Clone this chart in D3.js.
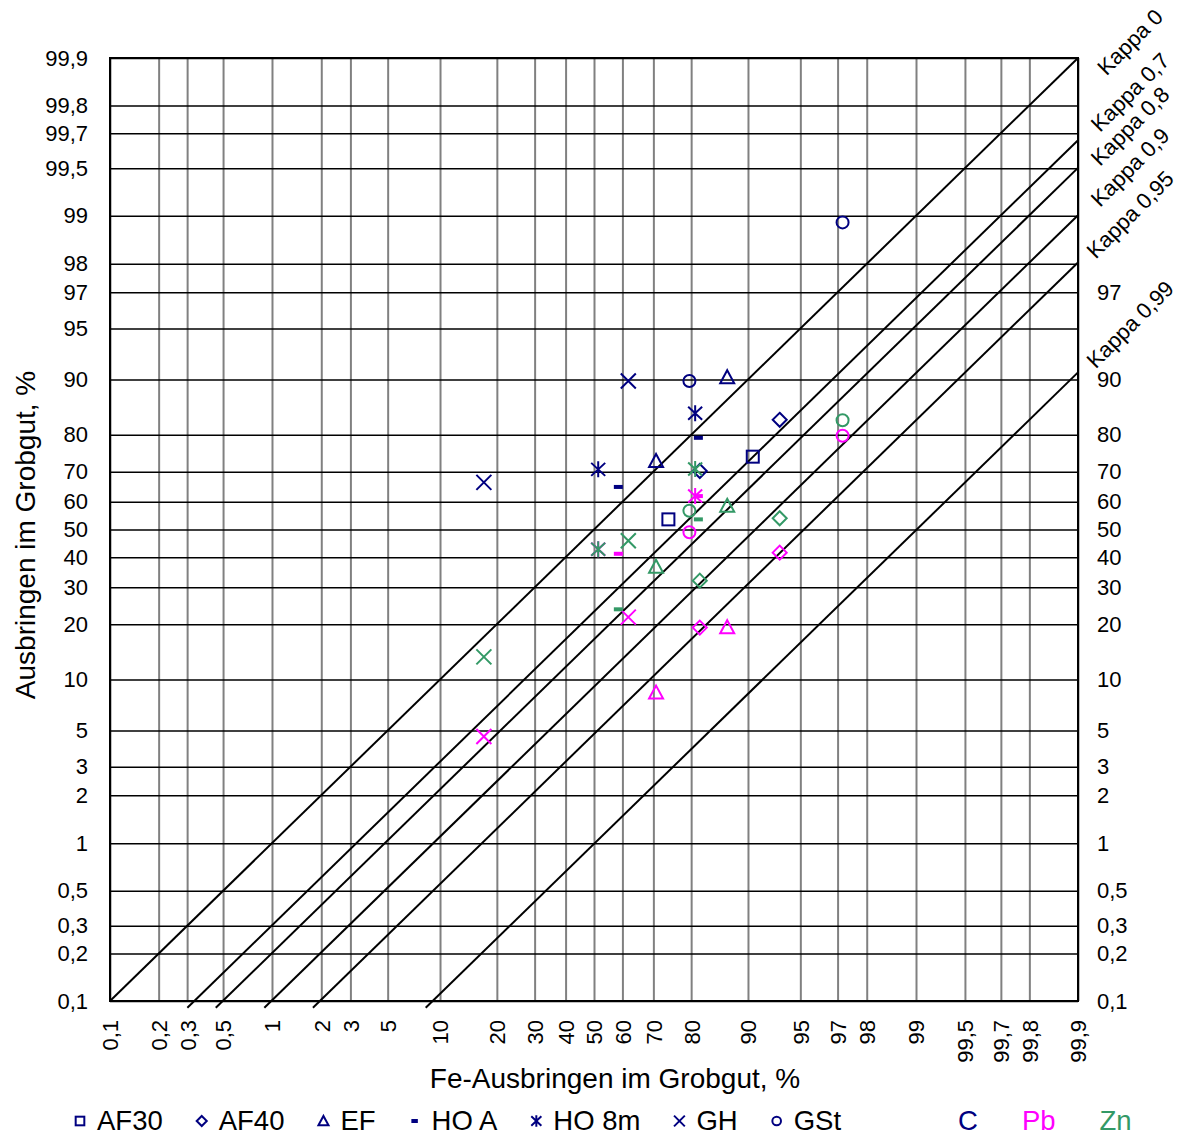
<!DOCTYPE html>
<html>
<head>
<meta charset="utf-8">
<script src="https://cdn.jsdelivr.net/npm/d3@7"></script>
<style>
  html, body { margin: 0; padding: 0; background: #fff; }
  svg { display: block; font-family: "Liberation Sans", Arial, sans-serif; }
</style>
</head>
<body>
<svg id="chart" width="1180" height="1137"></svg>
<script>
// Probability (logit) grid: Fe recovery vs. element recovery in the coarse product

const xTickValues = [0.1, 0.2, 0.3, 0.5, 1, 2, 3, 5, 10, 20, 30, 40, 50, 60, 70, 80, 90, 95, 97, 98, 99, 99.5, 99.7, 99.8, 99.9];
const yTickValues = [0.1, 0.2, 0.3, 0.5, 1, 2, 3, 5, 10, 20, 30, 40, 50, 60, 70, 80, 90, 95, 97, 98, 99, 99.5, 99.7, 99.8, 99.9];
const yTickValuesRight = [0.1, 0.2, 0.3, 0.5, 1, 2, 3, 5, 10, 20, 30, 40, 50, 60, 70, 80, 90, 97];

const kappaValues = [0, 0.7, 0.8, 0.9, 0.95, 0.99];

const methods = ["AF30", "AF40", "EF", "HO A", "HO 8m", "GH", "GSt"];
const markerTypes = ["square", "diamond", "triangle", "dash", "star", "cross", "circle"];

// Fe recovery (%) per method, two tests each
const feRecovery = [[74.3, 90.6], [81.9, 93.4], [70.8, 87.0], [58.6, 81.6], [51.5, 80.9], [17.2, 62.0], [79.6, 97.2]];
// Element recovery (%) in the same tests
const cRecovery  = [[53.7, 74.4], [70.2, 83.3], [73.2, 90.3], [65.1, 79.3], [70.7, 84.6], [66.6, 89.8], [89.8, 98.9]];
const pbRecovery = [[null, null], [19.2, 41.6], [8.4, 19.3], [41.2, 62.0], [42.8, 62.0], [4.6, 21.7], [49.0, 79.8]];
const znRecovery = [[null, null], [32.1, 54.1], [36.7, 58.6], [23.7, 53.7], [42.8, 70.8], [13.4, 45.9], [56.8, 83.2]];

const elements = ["C", "Pb", "Zn"];
const elementColors = ["#000080", "#FF00FF", "#339966"];
const elementData = [cRecovery, pbRecovery, znRecovery];

const fmt = v => String(v).replace(".", ",");
const logit = pct => Math.log((pct / 100) / (1 - pct / 100));

const svg = d3.select("#chart");
const pLeft = 110, pRight = 1078, pTop = 58, pBottom = 1001;

const xLin = d3.scaleLinear().domain([logit(0.1), logit(99.9)]).range([pLeft, pRight]);
const yLin = d3.scaleLinear().domain([logit(0.1), logit(99.9)]).range([pBottom, pTop]);
const xPos = v => xLin(logit(v));
const yPos = v => yLin(logit(v));

svg.append("rect").attr("width", 1180).attr("height", 1137).attr("fill", "#fff");

// vertical grid (grey) with rotated labels
const xAxis = d3.axisBottom(xLin)
  .tickValues(xTickValues.map(logit))
  .tickFormat((d, i) => fmt(xTickValues[i]))
  .tickSizeInner(-(pBottom - pTop)).tickSizeOuter(0).tickPadding(0);
const gx = svg.append("g").attr("transform", `translate(0,${pBottom})`).call(xAxis);
gx.select(".domain").remove();
gx.selectAll(".tick line").attr("stroke", "#808080").attr("stroke-width", 2);
gx.selectAll(".tick text")
  .attr("transform", "rotate(-90)")
  .attr("text-anchor", "end")
  .attr("x", -19).attr("y", 0).attr("dy", "0.36em")
  .attr("font-size", 22).attr("fill", "#000")
  .style("font-family", "Liberation Sans, Arial, sans-serif");

// horizontal grid (black) with left labels
const yAxis = d3.axisLeft(yLin)
  .tickValues(yTickValues.map(logit))
  .tickFormat((d, i) => fmt(yTickValues[i]))
  .tickSizeInner(-(pRight - pLeft)).tickSizeOuter(0).tickPadding(22);
const gy = svg.append("g").attr("transform", `translate(${pLeft},0)`).call(yAxis);
gy.select(".domain").remove();
gy.selectAll(".tick line").attr("stroke", "#000").attr("stroke-width", 1.5);
gy.selectAll(".tick text").attr("font-size", 22).attr("fill", "#000")
  .style("font-family", "Liberation Sans, Arial, sans-serif");

// right labels
const yAxisR = d3.axisRight(yLin)
  .tickValues(yTickValuesRight.map(logit))
  .tickFormat((d, i) => fmt(yTickValuesRight[i]))
  .tickSize(0).tickPadding(19);
const gyr = svg.append("g").attr("transform", `translate(${pRight},0)`).call(yAxisR);
gyr.select(".domain").remove();
gyr.selectAll(".tick text").attr("font-size", 22).attr("fill", "#000")
  .style("font-family", "Liberation Sans, Arial, sans-serif");

// Kappa lines: odds(element) = (1 - kappa) * odds(Fe)
const lo = logit(0.1), hi = logit(99.9);
const kappaLine = d3.line().x(d => xLin(d[0])).y(d => yLin(d[1]));
let prevLabelY = -Infinity;
kappaValues.forEach(k => {
  const off = k === 0 ? 0 : Math.log(1 - k);
  const y0 = k === 0 ? lo : lo - 0.1;
  const pts = [[y0 - off, y0], [hi, hi + off]];
  svg.append("path").attr("d", kappaLine(pts))
    .attr("fill", "none").attr("stroke", "#000").attr("stroke-width", 2);
  const yEnd = yLin(hi + off);
  const cy = Math.max(yEnd - 48, 42, prevLabelY + 34);
  prevLabelY = cy;
  svg.append("text")
    .attr("transform", `translate(1130,${cy}) rotate(-45)`)
    .attr("text-anchor", "middle").attr("dy", "0.35em")
    .attr("font-size", 22).attr("fill", "#000")
    .text("Kappa " + fmt(k));
});

// plot frame
svg.append("rect").attr("x", pLeft).attr("y", pTop)
  .attr("width", pRight - pLeft).attr("height", pBottom - pTop)
  .attr("fill", "none").attr("stroke", "#000").attr("stroke-width", 2);

// marker shapes
function drawMarker(g, type, color, s) {
  const sw = 2;
  switch (type) {
    case "square":
      g.append("rect").attr("x", -6 * s).attr("y", -6 * s).attr("width", 12 * s).attr("height", 12 * s)
        .attr("fill", "none").attr("stroke", color).attr("stroke-width", sw);
      break;
    case "diamond":
      g.append("path").attr("d", `M0,${-7 * s}L${7 * s},0L0,${7 * s}L${-7 * s},0Z`)
        .attr("fill", "none").attr("stroke", color).attr("stroke-width", sw);
      break;
    case "triangle":
      g.append("path").attr("d", `M0,${-7 * s}L${7 * s},${6 * s}L${-7 * s},${6 * s}Z`)
        .attr("fill", "none").attr("stroke", color).attr("stroke-width", sw);
      break;
    case "dash":
      g.append("rect").attr("x", -4.5 * s).attr("y", -2).attr("width", 9 * s).attr("height", 4)
        .attr("fill", color);
      break;
    case "star":
      g.append("path").attr("d",
        `M0,${-8 * s}L0,${8 * s}M${-7 * s},${-6.5 * s}L${7 * s},${6.5 * s}M${-7 * s},${6.5 * s}L${7 * s},${-6.5 * s}`)
        .attr("fill", "none").attr("stroke", color).attr("stroke-width", sw);
      break;
    case "cross":
      g.append("path").attr("d",
        `M${-7.5 * s},${-7.5 * s}L${7.5 * s},${7.5 * s}M${-7.5 * s},${7.5 * s}L${7.5 * s},${-7.5 * s}`)
        .attr("fill", "none").attr("stroke", color).attr("stroke-width", sw);
      break;
    case "circle":
      g.append("circle").attr("r", 6 * s)
        .attr("fill", "none").attr("stroke", color).attr("stroke-width", sw);
      break;
  }
}

// data points
const pointsLayer = svg.append("g");
elements.forEach((el, e) => {
  methods.forEach((m, i) => {
    feRecovery[i].forEach((fe, j) => {
      const val = elementData[e][i][j];
      if (val == null) return;
      const g = pointsLayer.append("g").attr("transform", `translate(${xPos(fe)},${yPos(val)})`);
      drawMarker(g, markerTypes[i], elementColors[e], 1);
    });
  });
});

// axis titles
svg.append("text").attr("x", 615).attr("y", 1088).attr("text-anchor", "middle")
  .attr("font-size", 28).attr("fill", "#000").text("Fe-Ausbringen im Grobgut, %");
svg.append("text").attr("transform", "translate(35,535) rotate(-90)").attr("text-anchor", "middle")
  .attr("font-size", 28).attr("fill", "#000").text("Ausbringen im Grobgut, %");

// legend
const legend = svg.append("g");
let cx = 80;
const ly = 1121;
methods.forEach((m, i) => {
  const g = legend.append("g").attr("transform", `translate(${cx},${ly})`);
  drawMarker(g, markerTypes[i], "#000080", 0.72);
  const t = legend.append("text").attr("x", cx + 17).attr("y", ly).attr("dy", "0.34em")
    .attr("font-size", 27.5).attr("fill", "#000").text(m);
  cx += 17 + t.node().getComputedTextLength() + 39;
});
let ex = 958;
elements.forEach((el, e) => {
  const t = legend.append("text").attr("x", ex).attr("y", ly).attr("dy", "0.34em")
    .attr("font-size", 27.5).attr("fill", elementColors[e]).text(el);
  ex += t.node().getComputedTextLength() + 44;
});
</script>
</body>
</html>
